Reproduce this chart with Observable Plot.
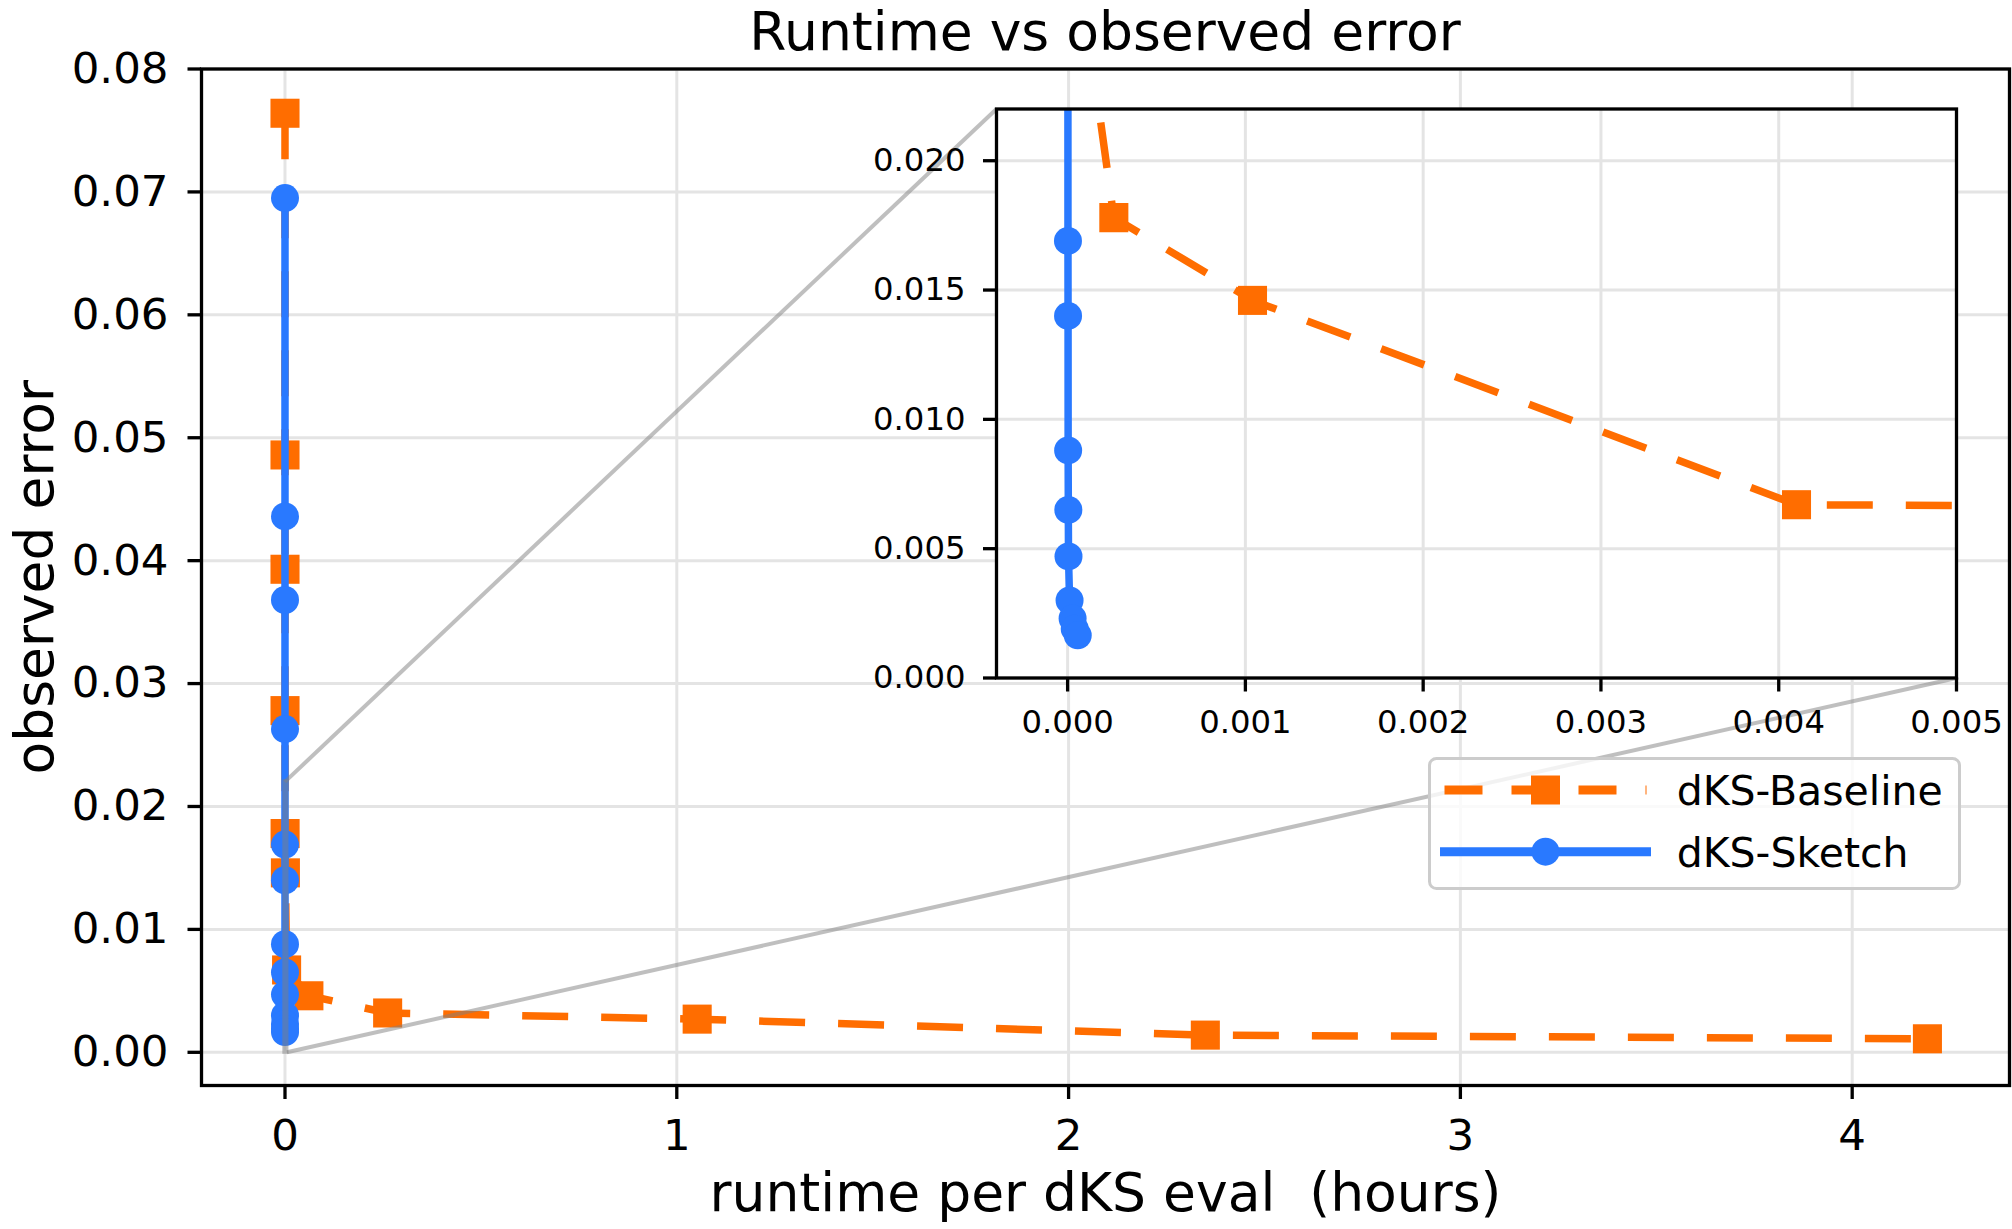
<!DOCTYPE html>
<html>
<head>
<meta charset="utf-8">
<script src="https://cdn.jsdelivr.net/npm/d3@7"></script>
<script src="https://cdn.jsdelivr.net/npm/@observablehq/plot@0.6"></script>
<style>
  html, body { margin: 0; padding: 0; background: #fff; overflow: hidden; }
  #fig { position: relative; width: 2012px; height: 1229px; overflow: hidden;
         font-family: "DejaVu Sans", sans-serif; color: #000; }
  #title { height: 47px; line-height: 63px; font-size: 53.5px; text-align: center;
           padding-left: 198px; white-space: nowrap; overflow: visible; }
  svg text { white-space: pre; }
</style>
</head>
<body>
<div id="fig"><div id="title">Runtime vs observed error</div></div>
<script>
// ---- data: runtime per evaluation (hours) and observed error ----
const seriesNames = ["dKS-Baseline", "dKS-Sketch"];
const seriesColors = ["#ff6d00", "#2979ff"];

const baselineRuntime = [0.000008, 0.000015, 0.00003, 0.00006, 0.00026, 0.00104, 0.0041, 0.061, 0.262, 1.052, 2.349, 4.192];
const baselineError   = [0.0764, 0.0486, 0.0393, 0.0278, 0.0178, 0.0146, 0.0067, 0.0046, 0.0032, 0.0027, 0.0014, 0.0011];

const sketchRuntime = [0.0000005, 0.000001, 0.0000012, 0.0000015, 0.000002, 0.0000025, 0.000003, 0.000004, 0.000005, 0.000011, 0.000028, 0.00004, 0.000057];
const sketchError   = [0.0695, 0.0436, 0.0368, 0.0263, 0.0169, 0.0140, 0.0088, 0.0065, 0.0047, 0.0030, 0.0023, 0.0019, 0.00165];

// ---- ticks ----
const mainXTicks = [0, 1, 2, 3, 4];
const mainYTicks = [0, 0.01, 0.02, 0.03, 0.04, 0.05, 0.06, 0.07, 0.08];
const insetXTicks = [0, 0.001, 0.002, 0.003, 0.004, 0.005];
const insetYTicks = [0, 0.005, 0.01, 0.015, 0.02];

// ---- axis extents ----
const mainXDomain = [-0.2131, 4.4015];
const mainYDomain = [-0.0027, 0.08];
const insetXDomain = [-0.0004, 0.005];
const insetYDomain = [0, 0.022];

const baseline = baselineRuntime.map((t, i) => ({t, e: baselineError[i]}));
const sketch = sketchRuntime.map((t, i) => ({t, e: sketchError[i]}));

const fig = document.getElementById("fig");
const FONT = "DejaVu Sans";
const gridStyle = {stroke: "#e4e4e4", strokeOpacity: 1, strokeWidth: 3};
const indicator = {stroke: "#808080", strokeOpacity: 0.5, strokeWidth: 4};

function seriesMarks(clip, lw) {
  return [
    Plot.line(baseline, {x: "t", y: "e", stroke: seriesColors[0], strokeWidth: lw,
      strokeDasharray: "46,33", strokeLinecap: "butt", strokeLinejoin: "round", clip}),
    Plot.dot(baseline, {x: "t", y: "e", symbol: "square", r: 16.4, fill: seriesColors[0], clip}),
    Plot.line(sketch, {x: "t", y: "e", stroke: seriesColors[1], strokeWidth: lw,
      strokeLinecap: "square", strokeLinejoin: "round", clip}),
    Plot.dot(sketch, {x: "t", y: "e", symbol: "circle", r: 14, fill: seriesColors[1], clip})
  ];
}

// ---- main chart ----
const TITLE_H = 47;
const W = 2012, H = 1229 - TITLE_H;
const M = {top: 21.5, right: 3, bottom: 144, left: 201};

// inset frame, in page pixels
const inset = {left: 996, top: 108.5, right: 1956, bottom: 677.5};

const xMain = d3.scaleLinear(mainXDomain, [M.left, W - M.right]);
const yMain = d3.scaleLinear(mainYDomain, [H - M.bottom, M.top]);

// zoom indicator: rectangle corners joined to the inset's corners
const connectors = [
  {x1: insetXDomain[0], y1: insetYDomain[1], x2: xMain.invert(inset.left), y2: yMain.invert(inset.top - TITLE_H)},
  {x1: insetXDomain[1], y1: insetYDomain[0], x2: xMain.invert(inset.right), y2: yMain.invert(inset.bottom - TITLE_H)}
];

const mainPlot = Plot.plot({
  width: W, height: H,
  marginTop: M.top, marginRight: M.right, marginBottom: M.bottom, marginLeft: M.left,
  x: {domain: mainXDomain},
  y: {domain: mainYDomain},
  style: {fontFamily: FONT, fontSize: "43.5px", color: "#000", background: "transparent", overflow: "visible"},
  marks: [
    Plot.gridX(mainXTicks, gridStyle),
    Plot.gridY(mainYTicks, gridStyle),
    ...seriesMarks(false, 7.5),
    Plot.rect([{x1: insetXDomain[0], x2: insetXDomain[1], y1: insetYDomain[0], y2: insetYDomain[1]}],
      {x1: "x1", x2: "x2", y1: "y1", y2: "y2", fill: "none", ...indicator}),
    Plot.link(connectors, {x1: "x1", y1: "y1", x2: "x2", y2: "y2", ...indicator}),
    Plot.axisX({ticks: mainXTicks, tickFormat: d3.format("d"), tickSize: 14, tickPadding: 20,
      fontSize: 43.5, strokeWidth: 3.3, label: null}),
    Plot.axisY({ticks: mainYTicks, tickFormat: d3.format(".2f"), tickSize: 13.5, tickPadding: 19.5,
      fontSize: 43.5, strokeWidth: 3.3, label: null}),
    Plot.frame({stroke: "#000", strokeWidth: 3.3}),
    Plot.text(["runtime per dKS eval  (hours)"], {frameAnchor: "bottom", dy: 125, fontSize: 53.5, fill: "#000"}),
    Plot.text(["observed error"], {frameAnchor: "left", textAnchor: "middle", rotate: -90, dx: -166,
      fontSize: 53.5, fill: "#000"})
  ]
});
mainPlot.style.maxWidth = "none";
mainPlot.style.display = "block";
fig.appendChild(mainPlot);

// ---- inset chart ----
const IN_LEFT = 880, IN_TOP = 100, IN_W = 1090, IN_H = 660;
const insetPlot = Plot.plot({
  width: IN_W, height: IN_H,
  marginLeft: inset.left - IN_LEFT,
  marginTop: inset.top - IN_TOP,
  marginRight: IN_W - (inset.right - IN_LEFT),
  marginBottom: IN_H - (inset.bottom - IN_TOP),
  x: {domain: insetXDomain},
  y: {domain: insetYDomain},
  style: {fontFamily: FONT, fontSize: "32.3px", color: "#000", background: "transparent", overflow: "visible"},
  marks: [
    Plot.frame({fill: "#fff"}),
    Plot.gridX(insetXTicks, gridStyle),
    Plot.gridY(insetYTicks, gridStyle),
    ...seriesMarks(true, 7.5),
    Plot.axisX({ticks: insetXTicks, tickFormat: d3.format(".3f"), tickSize: 14, tickPadding: 18,
      fontSize: 32.3, strokeWidth: 3.3, label: null}),
    Plot.axisY({ticks: insetYTicks, tickFormat: d3.format(".3f"), tickSize: 13, tickPadding: 18,
      fontSize: 32.3, strokeWidth: 3.3, label: null}),
    Plot.frame({stroke: "#000", strokeWidth: 3.3})
  ]
});
Object.assign(insetPlot.style, {position: "absolute", left: IN_LEFT + "px", top: IN_TOP + "px", maxWidth: "none"});
fig.appendChild(insetPlot);

// ---- legend ----
const LG = {left: 1428, top: 757, width: 533, height: 133};
const legend = d3.create("svg")
  .attr("width", LG.width).attr("height", LG.height)
  .style("position", "absolute").style("left", LG.left + "px").style("top", LG.top + "px")
  .style("overflow", "visible");
legend.append("rect")
  .attr("x", 1.5).attr("y", 1.5).attr("width", LG.width - 3).attr("height", LG.height - 3)
  .attr("rx", 7).attr("fill", "#fff").attr("fill-opacity", 0.8)
  .attr("stroke", "#cccccc").attr("stroke-width", 3);
const rows = [
  {name: seriesNames[0], color: seriesColors[0], y: 33, dash: "38,29", cap: "butt", symbol: "square"},
  {name: seriesNames[1], color: seriesColors[1], y: 94.7, dash: null, cap: "square", symbol: "circle"}
];
for (const r of rows) {
  legend.append("line")
    .attr("x1", 16.5).attr("x2", 218.5).attr("y1", r.y).attr("y2", r.y)
    .attr("stroke", r.color).attr("stroke-width", 9)
    .attr("stroke-linecap", r.cap)
    .attr("stroke-dasharray", r.dash);
  if (r.symbol === "square") {
    legend.append("rect").attr("x", 117.5 - 14.5).attr("y", r.y - 14.5)
      .attr("width", 29).attr("height", 29).attr("fill", r.color);
  } else {
    legend.append("circle").attr("cx", 117.5).attr("cy", r.y).attr("r", 14).attr("fill", r.color);
  }
  legend.append("text")
    .attr("x", 248.7).attr("y", r.y + 15)
    .attr("font-family", FONT).attr("font-size", 41).attr("fill", "#000")
    .text(r.name);
}
fig.appendChild(legend.node());
</script>
</body>
</html>
